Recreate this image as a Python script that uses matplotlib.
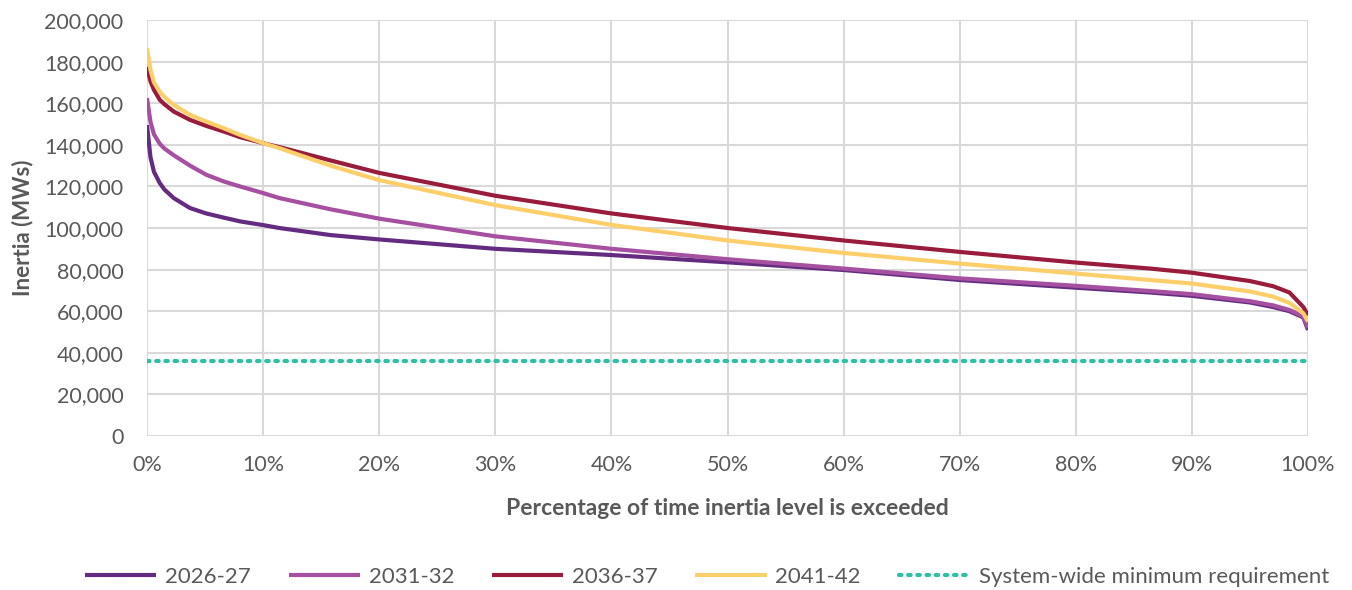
import matplotlib
matplotlib.use("Agg")
import matplotlib.pyplot as plt
from matplotlib.ticker import FuncFormatter, MultipleLocator

plt.rcParams['font.family'] = ['Lato', 'DejaVu Sans']

pct = [0, 0.3, 0.6, 1.1, 1.5, 2.3, 3.7, 5.1, 6.6, 8, 10, 11.4, 15.8, 20, 30, 40, 50, 60, 70, 80, 86.4, 90, 95, 97, 98.4, 99.6, 100]
s2026 = [149.5, 134, 127, 121.6, 118.5, 114.4, 109.6, 107, 105, 103.2, 101.4, 100, 96.6, 94.5, 90, 87, 83.5, 79.8, 75, 71.3, 69, 67.4, 64.2, 62, 60, 57, 51]
s2031 = [162.5, 151, 145, 140.5, 138.2, 135, 130, 125.6, 122.4, 120, 116.8, 114.4, 109, 104.5, 96, 90, 85, 80.5, 75.8, 72.2, 69.7, 68.2, 64.8, 62.8, 60.6, 57.5, 52]
s2036 = [177.5, 170.5, 166.4, 161.6, 159.5, 156, 152, 149.1, 146.4, 143.7, 140.8, 138.9, 132.5, 126.5, 115.5, 107, 100, 94, 88.5, 83.4, 80.5, 78.5, 74.5, 72, 69, 62, 58]
s2041 = [186.5, 176, 170, 165.5, 163, 159.2, 154.4, 151.2, 148, 144.8, 140.8, 138.4, 130, 123, 111, 101.5, 94, 88, 82.9, 78.1, 75, 73.3, 69.5, 67, 64, 59, 55]
min_req = 36.2

series = [("2026-27", s2026, "#642C80"),
          ("2031-32", s2031, "#A550A0"),
          ("2036-37", s2036, "#991C3C"),
          ("2041-42", s2041, "#FDCF6B")]

fig = plt.figure(figsize=(13.52, 5.90), dpi=100)
ax = fig.add_axes([147/1352, 1-436/590, (1308-147)/1352, (436-20)/590])

for name, vals, col in series:
    ax.plot(pct, [v*1000 for v in vals], color=col, lw=3, label=name, solid_capstyle='butt')
ax.plot([0, 100], [min_req*1000]*2, color="#2EBFA5", lw=3, ls=(0, (0.6, 1.6)),
        dash_capstyle='round', label="System-wide minimum requirement")

ax.set_xlim(0, 100)
ax.set_ylim(0, 200000)
ax.xaxis.set_major_locator(MultipleLocator(10))
ax.yaxis.set_major_locator(MultipleLocator(20000))
ax.xaxis.set_major_formatter(FuncFormatter(lambda v, p: f"{int(v)}%"))
ax.yaxis.set_major_formatter(FuncFormatter(lambda v, p: f"{int(v):,}"))
ax.grid(True, color="#D9D9D9", lw=1.5)
ax.set_axisbelow(True)
for s in ax.spines.values():
    s.set_visible(False)
ax.tick_params(axis='both', length=0, labelsize=15.5, labelcolor="#595959")
ax.tick_params(axis='x', pad=14)
ax.tick_params(axis='y', pad=17)
ax.set_xlabel("Percentage of time inertia level is exceeded", fontsize=16.5,
              fontweight='bold', color="#595959", labelpad=16)
ax.set_ylabel("Inertia (MWs)", fontsize=16, fontweight='bold', color="#595959", labelpad=8)

handles, labels = ax.get_legend_handles_labels()
fig.legend(handles, labels, loc='center', bbox_to_anchor=(0.523, 0.022), ncol=5,
           frameon=False, fontsize=16, labelcolor="#595959", handlelength=3.2,
           columnspacing=1.7, handletextpad=0.4)

fig.savefig("out.png", dpi=100)
